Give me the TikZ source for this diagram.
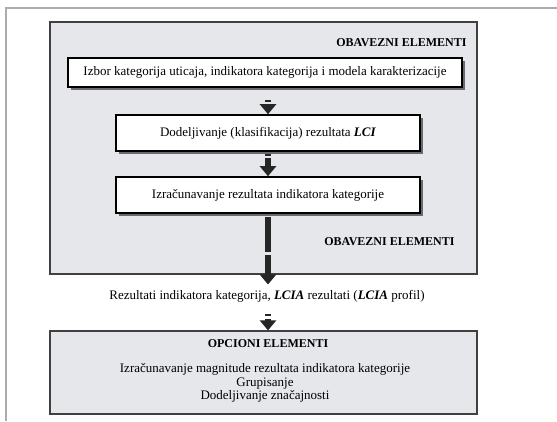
\documentclass[tikz,border=0pt]{standalone}
\usepackage{fontspec}
\setmainfont{Liberation Serif}
\usetikzlibrary{arrows.meta,positioning,shadows}

\definecolor{panelgray}{RGB}{230,231,235}
\definecolor{framegray}{RGB}{172,172,172}
\definecolor{shadowgray}{RGB}{105,105,110}

\tikzset{
  panel/.style={draw=black!75, line width=1.2pt, fill=panelgray},
  stepbox/.style={draw=black, line width=1.6pt, fill=white, inner xsep=2pt,
    font=\fontsize{13}{14}\selectfont,
    drop shadow={shadow xshift=2.5pt, shadow yshift=-2.5pt, fill=shadowgray, opacity=1}},
  headline/.style={font=\bfseries\fontsize{12}{13}\selectfont},
  bodytext/.style={font=\fontsize{13}{13.5}\selectfont},
  blockarrow/.style={line width=6pt, black!85, -{Triangle[width=16pt,length=10pt]}},
}

\begin{document}
\begin{tikzpicture}[x=1pt,y=-1pt]
  \useasboundingbox (0,0) rectangle (557,421);
  % outer frame
  \draw[framegray, line width=2.5pt] (6,421) -- (6,8) -- (557,8);

  % mandatory part
  \node[panel, minimum width=427pt, minimum height=252pt] (mandatory) at (263.5,148) {};
  \node[headline, anchor=east] (mandtop) at (470,43) {OBAVEZNI ELEMENTI};
  \node[stepbox, minimum width=394pt, minimum height=29pt] (izbor) at (265,72.5)
    {Izbor kategorija uticaja, indikatora kategorija i modela karakterizacije};
  \node[stepbox, minimum width=304pt, minimum height=36pt] (dodela) at (268,133)
    {Dodeljivanje (klasifikacija) rezultata \textbf{\textit{LCI}}};
  \node[stepbox, minimum width=304pt, minimum height=36pt] (racun) at (268,195)
    {Izračunavanje rezultata indikatora kategorije};
  \node[headline, anchor=east] (mandbot) at (458,242) {OBAVEZNI ELEMENTI};

  % result
  \node[bodytext] (rezultati) at (267,296)
    {Rezultati indikatora kategorija, \textbf{\textit{LCIA}} rezultati (\textbf{\textit{LCIA}} profil)};

  % optional part
  \node[panel, minimum width=427pt, minimum height=83pt] (optional) at (263.5,372.5) {};
  \node[headline] (opttitle) at (268,344) {OPCIONI ELEMENTI};
  \node[bodytext, align=center] (optlist) at (265,383)
    {Izračunavanje magnitude rezultata indikatora kategorije\\Grupisanje\\Dodeljivanje značajnosti};

  % arrows
  \draw[blockarrow, shorten <=12pt, dash pattern=on 2pt off 2pt on 40pt]
    (dodela.north |- izbor.south) -- (dodela.north);
  \draw[blockarrow, shorten <=2pt, dash pattern=on 2pt off 2pt on 40pt]
    (dodela.south) -- (racun.north);
  \draw[blockarrow, shorten <=3pt, shorten >=2pt, dash pattern=on 35pt off 3pt on 80pt]
    (racun.south) -- (racun.south |- rezultati.north);
  \draw[blockarrow, shorten <=8pt, dash pattern=on 2pt off 3pt on 40pt]
    (racun.south |- rezultati.south) -- (racun.south |- optional.north);
\end{tikzpicture}
\end{document}
